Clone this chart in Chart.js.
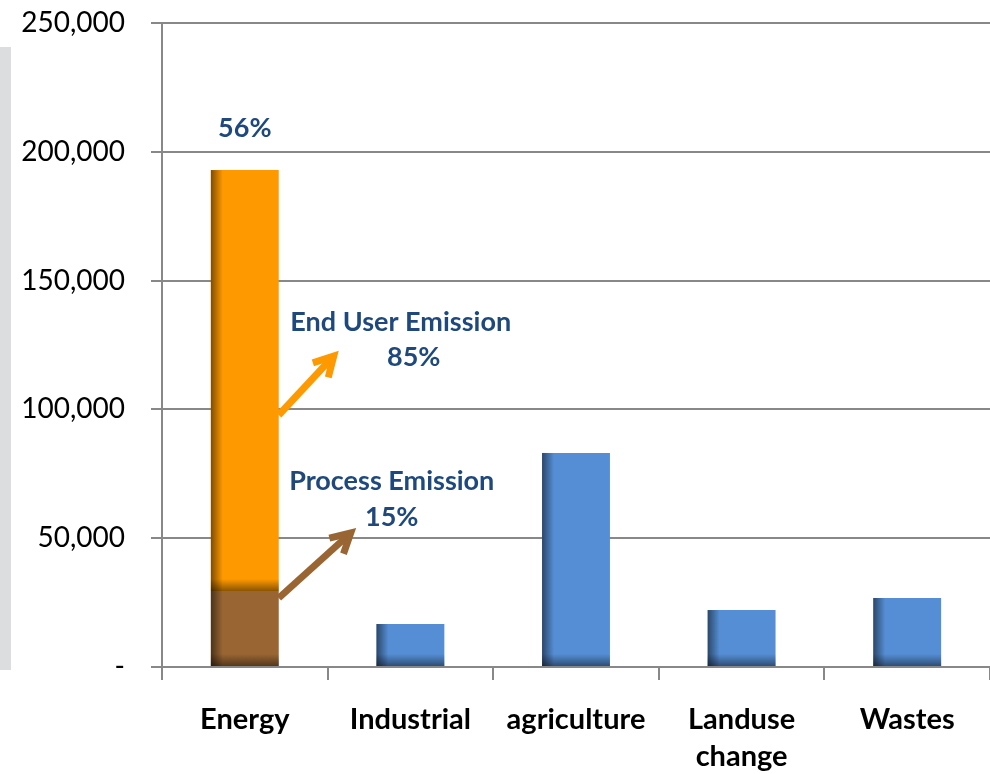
<!DOCTYPE html>
<html>
<head>
<meta charset="utf-8">
<script src="https://cdn.jsdelivr.net/npm/chart.js@4/dist/chart.umd.min.js"></script>
<style>
  html, body { margin: 0; background: #fff; }
  #wrap { position: relative; width: 990px; height: 774px; }
  #side { position: absolute; left: 0; top: 47px; width: 11px; height: 623px; background: #dcdddf; }
  canvas { position: absolute; left: 0; top: 0; }
</style>
</head>
<body>
<div id="wrap">
  <div id="side"></div>
  <canvas id="emissionChart" width="990" height="774"></canvas>
</div>
<script>
// values
const categories = ['Energy', 'Industrial', 'agriculture', ['Landuse', 'change'], 'Wastes'];
const processEmission = [29500, null, null, null, null];
const endUserEmission = [163400, null, null, null, null];
const otherSectors = [null, 16700, 83100, 22100, 26800];
const yTicks = [0, 50000, 100000, 150000, 200000, 250000];
const energyShare = '56%';
const endUserShare = '85%';
const processShare = '15%';

const textBlue = '#1f497d';
const fontFamily = 'Lato, "Open Sans", sans-serif';

// dark left edge + dark bottom like the excel bevel
const shadePlugin = {
    id: 'shade',
    afterDatasetsDraw(chart) {
        const ctx = chart.ctx;
        chart.data.datasets.forEach((ds, i) => {
            chart.getDatasetMeta(i).data.forEach((bar, j) => {
                if (ds.data[j] == null) return;
                const left = bar.x - bar.width / 2;
                const top = Math.min(bar.y, bar.base);
                const bottom = Math.max(bar.y, bar.base);
                let g = ctx.createLinearGradient(left, 0, left + 12, 0);
                g.addColorStop(0, 'rgba(0,0,0,0.5)');
                g.addColorStop(1, 'rgba(0,0,0,0)');
                ctx.fillStyle = g;
                ctx.fillRect(left, top, 12, bottom - top);
                g = ctx.createLinearGradient(0, bottom - 12, 0, bottom);
                g.addColorStop(0, 'rgba(0,0,0,0)');
                g.addColorStop(1, 'rgba(0,0,0,0.45)');
                ctx.fillStyle = g;
                ctx.fillRect(left, bottom - 12, bar.width, 12);
            });
        });
    }
};

function arrow(ctx, x1, y1, x2, y2, color) {
    const a = Math.atan2(y2 - y1, x2 - x1);
    const head = 22;
    ctx.save();
    ctx.strokeStyle = color;
    ctx.lineWidth = 7;
    ctx.lineCap = 'butt';
    ctx.beginPath();
    ctx.moveTo(x1, y1);
    ctx.lineTo(x2 - 3 * Math.cos(a), y2 - 3 * Math.sin(a));
    ctx.stroke();
    ctx.beginPath();
    ctx.moveTo(x2 - head * Math.cos(a - 0.5), y2 - head * Math.sin(a - 0.5));
    ctx.lineTo(x2, y2);
    ctx.lineTo(x2 - head * Math.cos(a + 0.5), y2 - head * Math.sin(a + 0.5));
    ctx.stroke();
    ctx.restore();
}

const notePlugin = {
    id: 'notes',
    afterDraw(chart) {
        const ctx = chart.ctx;
        const procBar = chart.getDatasetMeta(0).data[0];
        const endBar = chart.getDatasetMeta(1).data[0];
        const cx = endBar.x;
        const right = endBar.x + endBar.width / 2;
        const procTop = procBar.y;
        const endTop = endBar.y;

        ctx.save();
        ctx.fillStyle = textBlue;
        ctx.textAlign = 'center';
        ctx.textBaseline = 'middle';
        ctx.font = 'bold 27px ' + fontFamily;
        ctx.fillText(energyShare, cx, endTop - 42);
        ctx.fillText('End User Emission', right + 122, procTop - 269);
        ctx.fillText(endUserShare, right + 135, procTop - 234);
        ctx.fillText('Process Emission', right + 113, procTop - 110);
        ctx.fillText(processShare, right + 113, procTop - 74);
        ctx.restore();

        arrow(ctx, right, procTop - 176, right + 55, procTop - 235, '#ff9900');
        arrow(ctx, right, procTop + 7, right + 72, procTop - 58, '#996633');
    }
};

new Chart(document.getElementById('emissionChart'), {
    type: 'bar',
    data: {
        labels: categories,
        datasets: [
            { label: 'Process Emission', data: processEmission, backgroundColor: '#996633' },
            { label: 'End User Emission', data: endUserEmission, backgroundColor: '#ff9900' },
            { label: 'Others', data: otherSectors, backgroundColor: '#558ed5' }
        ]
    },
    options: {
        responsive: false,
        animation: false,
        layout: { padding: { top: 23, right: 0, left: 0, bottom: 0 } },
        categoryPercentage: 1,
        barPercentage: 0.41,
        plugins: {
            legend: { display: false },
            tooltip: { enabled: false }
        },
        scales: {
            x: {
                stacked: true,
                border: { color: '#888', width: 2 },
                grid: { offset: true, drawOnChartArea: false, tickLength: 13, color: '#888', lineWidth: 2 },
                ticks: {
                    color: '#000',
                    font: { family: fontFamily, size: 29, weight: 'bold', lineHeight: 1.25 },
                    padding: 22
                },
                afterFit(scale) { scale.height = 107; }
            },
            y: {
                stacked: true,
                min: 0,
                max: 250000,
                afterBuildTicks(scale) { scale.ticks = yTicks.map(v => ({ value: v })); },
                border: { color: '#888', width: 2 },
                grid: { color: '#888', lineWidth: 2, tickLength: 11 },
                ticks: {
                    color: '#000',
                    font: { family: fontFamily, size: 28 },
                    padding: 26,
                    callback: v => v === 0 ? '-' : v.toLocaleString('en-US')
                },
                afterFit(scale) {
                    scale.width = 162;
                    scale.paddingTop = 0;
                    scale.paddingBottom = 0;
                }
            }
        }
    },
    plugins: [shadePlugin, notePlugin]
});
</script>
</body>
</html>
